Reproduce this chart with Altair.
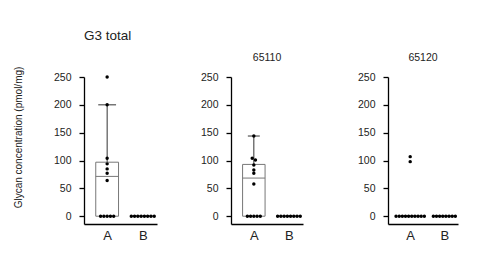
import altair as alt
import pandas as pd

FONT = "Liberation Sans"

panels = ["G3 total", "65110", "65120"]
groups = ["A", "B"]
group_pos = [1, 2]

a_values = [
    [250, 200, 104, 94, 85, 77, 64, 0, 0, 0, 0, 0],
    [144, 104, 101, 92, 83, 77, 58, 0, 0, 0, 0, 0],
    [107, 98, 0, 0, 0, 0, 0, 0, 0, 0, 0, 0],
]
b_values = [
    [0, 0, 0, 0, 0, 0, 0, 0],
    [0, 0, 0, 0, 0, 0, 0, 0],
    [0, 0, 0, 0, 0, 0, 0, 0],
]

# box summaries (A, B) per panel
q1 = [[0, 0], [0, 0], [0, 0]]
median = [[71.5, 0], [68.5, 0], [0, 0]]
q3 = [[97, 0], [93, 0], [0, 0]]
whisk_lo = [[0, 0], [0, 0], [0, 0]]
whisk_hi = [[200, 0], [144, 0], [0, 0]]

y_ticks = [0, 50, 100, 150, 200, 250]

BOX_HALF = 0.32
CAP_HALF = [0.25, 0.17, 0.17]
STEP = 0.092

# ---- build tables ----
rows = []
for pi, p in enumerate(panels):
    for gi, vals in enumerate([a_values[pi], b_values[pi]]):
        svals = sorted(vals, reverse=True)
        clusters = []
        for v in svals:
            if clusters and abs(clusters[-1][-1] - v) <= 5:
                clusters[-1].append(v)
            else:
                clusters.append([v])
        for c in clusters:
            n = len(c)
            for k, v in enumerate(c):
                rows.append({"panel": p, "group": groups[gi], "value": v,
                             "xj": group_pos[gi] + (k - (n - 1) / 2) * STEP})
pts = pd.DataFrame(rows)

brows = []
for pi, p in enumerate(panels):
    for gi, g in enumerate(groups):
        c = group_pos[gi]
        brows.append({"panel": p, "group": g, "xc": c,
                      "x0": c - BOX_HALF, "x1": c + BOX_HALF,
                      "c0": c - CAP_HALF[pi], "c1": c + CAP_HALF[pi],
                      "q1": q1[pi][gi], "med": median[pi][gi], "q3": q3[pi][gi],
                      "wlo": whisk_lo[pi][gi], "whi": whisk_hi[pi][gi]})
boxes = pd.DataFrame(brows)

xscale = alt.Scale(domain=[0.35, 2.4], nice=False, zero=False)
yscale = alt.Scale(domain=[-14, 250], nice=False, zero=False)

label_expr = " : ".join(
    [f"datum.value == {pos} ? '{g}'" for pos, g in zip(group_pos, groups)]) + " : ''"


def xaxis():
    return alt.Axis(values=group_pos, labelExpr=label_expr, ticks=False,
                    labelFontSize=13, labelPadding=5, grid=False,
                    domainColor="black", domainWidth=1.3, labelColor="#222",
                    labelFont=FONT)


def yaxis(first):
    kw = dict(values=y_ticks, tickSize=5, labelPadding=8, labelFontSize=10.5,
              grid=False, domainColor="black", domainWidth=1.3, tickColor="black",
              tickWidth=1.3, labelColor="#222", labelFont=FONT)
    if first:
        kw.update(title="Glycan concentration (pmol/mg)", titleFontSize=10,
                  titleFontWeight="normal", titleFont=FONT, titleColor="#222",
                  titlePadding=30, titleY=60)
    else:
        kw.update(title=None)
    return alt.Axis(**kw)


def panel(pi, width):
    p = panels[pi]
    d_pts = pts[pts.panel == p]
    d_box = boxes[boxes.panel == p]
    X = lambda f: alt.X(f, type="quantitative", scale=xscale, axis=xaxis(), title=None)
    Y = lambda f: alt.Y(f, type="quantitative", scale=yscale, axis=yaxis(pi == 0))

    base = alt.Chart(d_box)
    whisker = base.mark_rule(color="#333", strokeWidth=1).encode(
        x=X("xc"), y=Y("q3"), y2="whi")
    lwhisk = base.mark_rule(color="#333", strokeWidth=1).encode(
        x=X("xc"), y=Y("q1"), y2="wlo")
    cap = base.mark_rule(color="#333", strokeWidth=1).encode(
        x=X("c0"), x2="c1", y=Y("whi"))
    rect = base.mark_rect(fill="white", stroke="#777", strokeWidth=1).encode(
        x=X("x0"), x2="x1", y=Y("q1"), y2="q3")
    med = base.mark_rule(color="#777", strokeWidth=1).encode(
        x=X("x0"), x2="x1", y=Y("med"))
    dots = alt.Chart(d_pts).mark_circle(size=12, color="black", opacity=1).encode(
        x=X("xj"), y=Y("value"))

    if pi == 0:
        title = alt.TitleParams(p, anchor="start", frame="group", fontSize=13.5,
                                fontWeight="normal", font=FONT, color="#222",
                                offset=24)
    else:
        title = alt.TitleParams(p, anchor="middle", fontSize=10.5,
                                fontWeight="normal", font=FONT, color="#222",
                                offset=9)
    return alt.layer(whisker, lwhisk, cap, rect, med, dots).properties(
        width=width, height=147, title=title)


def spacer(width):
    return alt.Chart(pd.DataFrame({"v": [0]})).mark_point(opacity=0).encode(
        x=alt.X("v:Q", axis=None), y=alt.Y("v:Q", axis=None)
    ).properties(width=width, height=147)


p1 = panel(0, 73)
p2 = panel(1, 72)
p3 = panel(2, 70)

chart = alt.hconcat(p1, spacer(74), p2, spacer(85), p3,
                    spacing=0, bounds="flush").properties(
    autosize=alt.AutoSizeParams(type="none"),
    padding={"left": 84, "top": 77, "right": 417, "bottom": 183},
    background="white",
).configure_view(stroke=None)

chart.save("out.html", embed_options={"renderer": "svg", "actions": False})
